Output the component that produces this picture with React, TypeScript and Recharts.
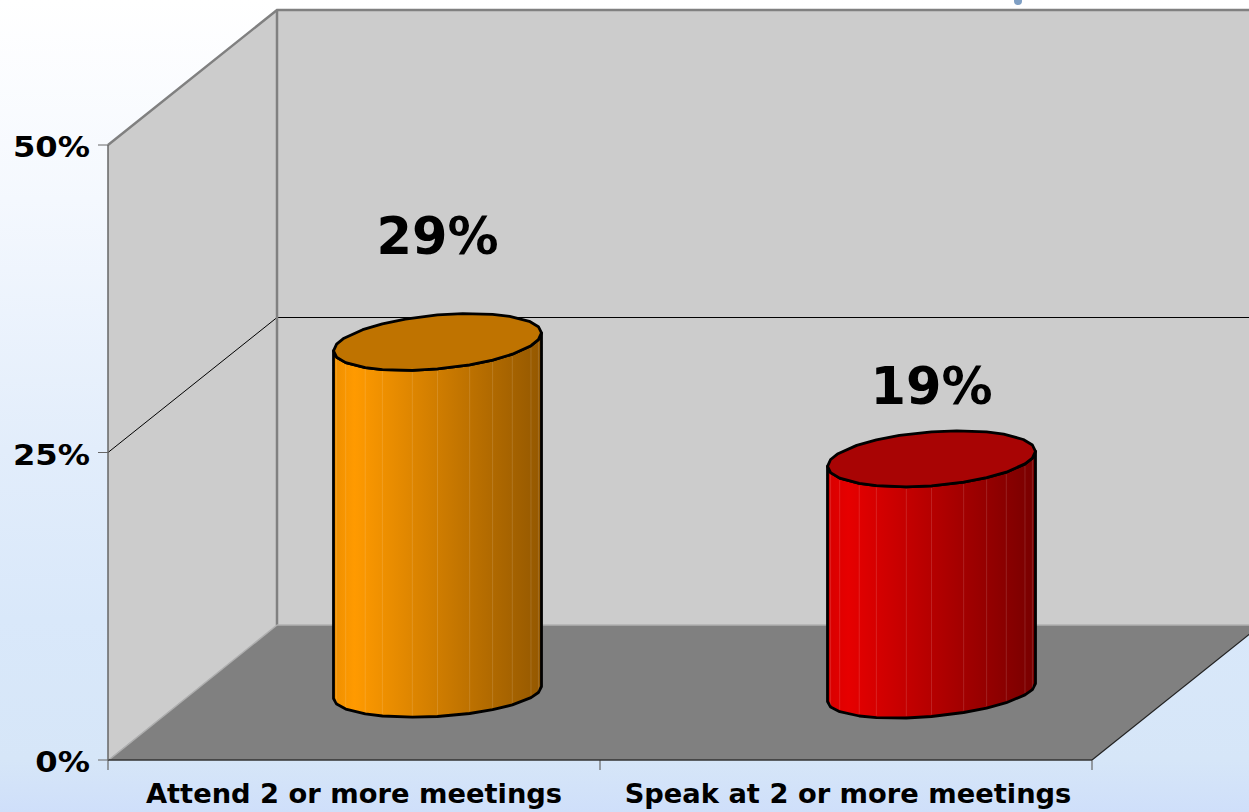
import React from 'react'
import { BarChart, Bar, XAxis, YAxis, LabelList } from 'recharts'

const categories = ['Attend 2 or more meetings', 'Speak at 2 or more meetings']
const shares = [28.5, 19]
const valueTicks = [0, 25, 50]
const bodyColors = [
  ['#ee8f00', '#ff9a00', '#945800'],
  ['#d80000', '#e60000', '#780000'],
]
const topColors = ['#bf7300', '#a80404']
const labelLift = [88, 55]

const W = 1249
const H = 812
const LEFT = 108
const RIGHT = 1092
const TOP = 145
const BOTTOM = 760
const DX = 169
const DY = 135
const FONT = '"DejaVu Sans", Verdana, sans-serif'
// the rims in the picture are rough polygons, not true ellipses
const RIM_ANGLES = [0, 14, 26, 44, 58, 72, 90, 104, 122, 134, 152, 166, 180]

const rows = categories.map((name, i) => ({ name, share: shares[i], idx: i }))

const rimPoint = (a: number, cx: number, cy: number, rx: number, ry: number, skew: number) => {
  const t = (a * Math.PI) / 180
  return `${(cx + rx * Math.cos(t)).toFixed(1)},${(cy + ry * Math.sin(t) + skew * Math.cos(t)).toFixed(1)}`
}

// cylinder sits half way into the depth of the box
const Cylinder = (props: any) => {
  const { x, y, width, height, payload } = props
  const i = payload.idx
  const cx = x + width / 2 + DX / 2
  const rx = width / 2
  const topY = y - DY / 2
  const botY = y + height - DY / 2
  const topSkew = i === 0 ? -9 : -7.5
  const botSkew = i === 0 ? -6 : -9
  const bottom = RIM_ANGLES.map((a) => rimPoint(a, cx, botY, rx, 24, botSkew))
  const topFront = RIM_ANGLES.map((a) => rimPoint(a, cx, topY, rx, 27, topSkew))
  const topBack = RIM_ANGLES.map((a) => rimPoint(a + 180, cx, topY, rx, 27, topSkew))
  return (
    <g>
      <polygon points={[...bottom, ...[...topFront].reverse()].join(' ')} fill={`url(#body${i})`} stroke="#000" strokeWidth={2.8} strokeLinejoin="round" />
      {RIM_ANGLES.slice(1, -1).map((a) => {
        const t = (a * Math.PI) / 180
        const fx = cx + rx * Math.cos(t)
        return (
          <line
            key={a}
            x1={fx}
            x2={fx}
            y1={topY + 27 * Math.sin(t) + topSkew * Math.cos(t) + 2}
            y2={botY + 24 * Math.sin(t) + botSkew * Math.cos(t) - 2}
            stroke="#fff"
            strokeOpacity={0.13}
          />
        )
      })}
      <polygon points={[...topFront, ...topBack].join(' ')} fill={topColors[i]} stroke="#000" strokeWidth={2.8} strokeLinejoin="round" />
    </g>
  )
}

const Box = () => {
  const bx = LEFT + DX
  const by = BOTTOM - DY
  const midF = (TOP + BOTTOM) / 2
  const midB = midF - DY
  return (
    <g>
      <defs>
        {bodyColors.map((c, i) => (
          <linearGradient key={i} id={`body${i}`} x1="0" x2="1" y1="0" y2="0">
            <stop offset="0" stopColor={c[0]} />
            <stop offset="0.1" stopColor={c[1]} />
            <stop offset="1" stopColor={c[2]} />
          </linearGradient>
        ))}
      </defs>
      <circle cx={1018} cy={1} r={4} fill="#7f9fc4" />
      <polygon points={`${bx},${TOP - DY} ${W + 20},${TOP - DY} ${W + 20},${by} ${bx},${by}`} fill="#cccccc" />
      <polygon points={`${LEFT},${BOTTOM} ${LEFT},${TOP} ${bx},${TOP - DY} ${bx},${by}`} fill="#cccccc" />
      <polygon points={`${LEFT},${BOTTOM} ${RIGHT},${BOTTOM} ${RIGHT + DX},${by} ${bx},${by}`} fill="#808080" />
      <polyline points={`${LEFT},${midF} ${bx},${midB} ${W + 20},${midB}`} fill="none" stroke="#000" strokeWidth={1} />
      <polyline points={`${LEFT},${TOP} ${bx},${TOP - DY} ${W + 20},${TOP - DY}`} fill="none" stroke="#808080" strokeWidth={2.5} />
      <line x1={bx} x2={bx} y1={TOP - DY} y2={by} stroke="#808080" strokeWidth={2.5} />
      <line x1={bx} x2={W + 20} y1={by} y2={by} stroke="#b0b0b0" strokeWidth={1.5} />
      <line x1={LEFT + 2} x2={bx} y1={BOTTOM - 1} y2={by} stroke="#b0b0b0" strokeWidth={1.5} />
      <line x1={RIGHT} x2={RIGHT + DX} y1={BOTTOM} y2={by} stroke="#222" strokeWidth={1.2} />
      {[LEFT, (LEFT + RIGHT) / 2, RIGHT].map((tx) => (
        <line key={tx} x1={tx} x2={tx} y1={BOTTOM} y2={BOTTOM + 10} stroke="#666" strokeWidth={1.2} />
      ))}
    </g>
  )
}

const stretched = (anchor: 'middle' | 'end', size: number, sx: number, dx: number, dy: number) => (props: any) => {
  const { x, y, payload } = props
  const text = anchor === 'end' ? `${payload.value}%` : payload.value
  return (
    <text
      transform={`translate(${x + dx},${y + dy}) scale(${sx},1)`}
      textAnchor={anchor}
      fontFamily={FONT}
      fontWeight={700}
      fontSize={size}
      fill="#000"
    >
      {text}
    </text>
  )
}

const ShareLabel = (props: any) => {
  const { x, y, width, value, index } = props
  return (
    <text
      x={x + width / 2 + DX / 2}
      y={y - DY / 2 - labelLift[index]}
      textAnchor="middle"
      fontFamily={FONT}
      fontWeight={700}
      fontSize={51}
      fill="#000"
    >
      {Math.round(value)}%
    </text>
  )
}

export default function App() {
  return (
    <div
      style={{
        position: 'absolute',
        left: 0,
        top: 0,
        width: W,
        height: H,
        overflow: 'hidden',
        background: 'linear-gradient(180deg,#ffffff 0px,#f4f8fe 200px,#e2edfb 450px,#d9e8fa 620px,#d6e6f8 760px,#cfdffa 812px)',
      }}
    >
      <BarChart
        width={W}
        height={H}
        data={rows}
        margin={{ top: TOP, right: W - RIGHT, bottom: 0, left: 0 }}
        barCategoryGap="29%"
      >
        <Box />
        <XAxis
          dataKey="name"
          height={H - BOTTOM}
          padding={{ left: -2, right: -2 }}
          tickLine={false}
          axisLine={{ stroke: '#333', strokeWidth: 1.5 }}
          tick={stretched('middle', 27.3, 1, 1, 35)}
          interval={0}
        />
        <YAxis
          type="number"
          domain={[0, 50]}
          ticks={valueTicks}
          width={LEFT}
          tickSize={10}
          tickLine={{ stroke: '#666' }}
          axisLine={{ stroke: '#666', strokeWidth: 1.5 }}
          tick={stretched('end', 28, 1.15, -6, 12)}
          interval={0}
        />
        <Bar dataKey="share" barSize={208} shape={Cylinder} isAnimationActive={false}>
          <LabelList dataKey="share" content={ShareLabel} />
        </Bar>
      </BarChart>
    </div>
  )
}
